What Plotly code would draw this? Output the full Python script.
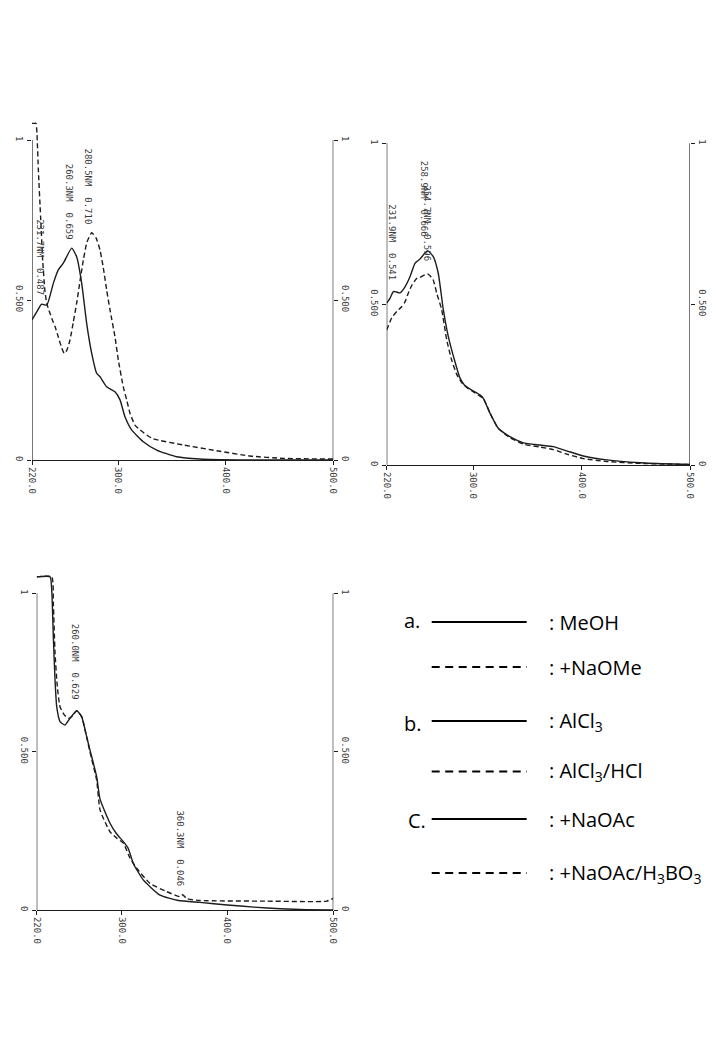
import plotly.graph_objects as go

W, H = 720, 1040

# ---------------- axes / ticks ----------------
X_RANGE = [220, 500]
Y_RANGE = [0, 1.08]
X_TICKS = [220, 300, 400, 500]
X_TICK_TEXT = ["220.0", "300.0", "400.0", "500.0"]
Y_TICKS = [0, 0.5, 1]
Y_TICK_TEXT = ["0", "0.500", "1"]

# ---------------- panel a : MeOH / +NaOMe ----------------
a_wl_meoh = [220, 224.4, 229.0, 233.7, 239.8, 244.4, 249.1, 256.9, 261.5, 266.2, 270.8,
             275.5, 280.1, 283.2, 289.4, 297.1, 301.8, 306.4, 312.6, 323.4, 335.9, 354.5,
             376.1, 413.3, 460, 500]
a_abs_meoh = [0.438, 0.463, 0.487, 0.484, 0.552, 0.594, 0.615, 0.662, 0.635, 0.552, 0.427,
              0.333, 0.271, 0.260, 0.229, 0.213, 0.188, 0.135, 0.094, 0.057, 0.031, 0.010,
              0.003, 0.0, 0.0, 0.0]
a_wl_naome = [220, 222.0, 223.7, 224.6, 226.0, 228.0, 230.0, 232.0, 233.7, 238.3, 241.4,
              244.4, 247.6, 250.0, 252.5, 255.3, 258.4, 261.5, 264.6, 267.7, 271.1, 275.5,
              279.5, 283.2, 286.3, 289.4, 292.5, 297.1, 300.2, 304.8, 308.0, 311.1, 315.7,
              320.4, 326.6, 332.7, 360.6, 391.6, 422.6, 453.5, 500]
a_abs_naome = [1.052, 1.052, 1.052, 1.020, 0.900, 0.760, 0.620, 0.530, 0.490, 0.443, 0.417,
               0.385, 0.350, 0.333, 0.344, 0.375, 0.431, 0.490, 0.559, 0.625, 0.681, 0.710,
               0.694, 0.656, 0.600, 0.531, 0.469, 0.385, 0.313, 0.229, 0.188, 0.146, 0.109,
               0.094, 0.078, 0.066, 0.047, 0.029, 0.0125, 0.005, 0.003]
a_lab_text = ["231.7NM  0.487", "260.3NM  0.659", "280.5NM  0.710"]
a_lab_wl = [227.4, 254.7, 272.3]
a_lab_abs = [0.487, 0.659, 0.710]

# ---------------- panel b : AlCl3 / AlCl3+HCl ----------------
b_wl_alcl3 = [220, 223.0, 226.1, 227.7, 232.3, 236.9, 241.5, 246.1, 250.7, 257.7, 263.0,
              267.6, 272.3, 276.9, 283.1, 287.7, 292.3, 298.5, 306.1, 309.2, 315.4, 323.0,
              333.8, 346.1, 361.5, 373.8, 386.2, 401.5, 423.1, 454.0, 484.3, 500]
b_abs_alcl3 = [0.503, 0.518, 0.539, 0.539, 0.535, 0.554, 0.585, 0.627, 0.640, 0.666, 0.648,
               0.596, 0.482, 0.399, 0.320, 0.270, 0.246, 0.233, 0.218, 0.207, 0.161, 0.114,
               0.088, 0.069, 0.062, 0.057, 0.044, 0.028, 0.016, 0.007, 0.003, 0.0015]
b_wl_hcl = [220, 224.6, 229.2, 233.8, 236.9, 239.9, 243.4, 247.7, 250.7, 257.7, 262.7,
            266.2, 270.8, 275.4, 280.0, 284.9, 289.5, 296.0, 304.3, 309.2, 315.4, 323.0,
            333.8, 346.1, 361.5, 373.8, 386.2, 401.5, 423.1, 454.0, 500]
b_abs_hcl = [0.420, 0.457, 0.477, 0.492, 0.507, 0.534, 0.560, 0.580, 0.583, 0.594, 0.577,
             0.534, 0.482, 0.389, 0.326, 0.280, 0.255, 0.236, 0.218, 0.207, 0.161, 0.114,
             0.085, 0.065, 0.056, 0.048, 0.034, 0.020, 0.011, 0.005, 0.0015]
b_lab_text = ["231.9NM  0.541", "258.9NM  0.666", "254.7NM  0.596"]
b_lab_wl = [224.6, 254.4, 257.2]
b_lab_abs = [0.541, 0.666, 0.596]

# ---------------- panel c : +NaOAc / +NaOAc+H3BO3 ----------------
c_wl_naoac = [220, 232.6, 234.2, 235.7, 237.3, 238.9, 242.0, 246.7, 251.4, 257.8, 262.5,
              267.2, 270.3, 276.6, 279.8, 289.2, 295.5, 301.8, 306.2, 311.2, 320.6, 336.4,
              353.7, 374.2, 400.0, 425.0, 450.0, 475.0, 500]
c_abs_naoac = [1.052, 1.052, 1.010, 0.863, 0.726, 0.642, 0.595, 0.584, 0.605, 0.629, 0.610,
               0.547, 0.505, 0.421, 0.350, 0.274, 0.240, 0.216, 0.196, 0.147, 0.095, 0.047,
               0.030, 0.024, 0.016, 0.009, 0.004, 0.001, 0.0]
c_wl_boric = [220, 234.2, 235.7, 237.3, 239.5, 242.0, 246.1, 249.8, 253.0, 257.8, 262.5,
              267.2, 270.3, 276.6, 279.8, 289.2, 295.5, 301.8, 308.1, 314.4, 327.0, 342.7,
              355.3, 357.8, 361.6, 374.2, 437.1, 493.8, 500]
c_abs_boric = [1.052, 1.052, 0.968, 0.811, 0.705, 0.642, 0.616, 0.605, 0.610, 0.629, 0.610,
               0.545, 0.499, 0.410, 0.316, 0.247, 0.227, 0.211, 0.164, 0.132, 0.084, 0.058,
               0.042, 0.048, 0.036, 0.030, 0.028, 0.028, 0.037]
c_lab_text = ["260.0NM  0.629", "360.3NM  0.046"]
c_lab_wl = [256.2, 355.3]
c_lab_abs = [0.629, 0.046]

# ---------------- legend text ----------------
leg_group = ["a.", "", "b.", "", "C.", ""]
leg_label = [": MeOH", ": +NaOMe", ": AlCl<sub>3</sub>", ": AlCl<sub>3</sub>/HCl",
             ": +NaOAc", ": +NaOAc/H<sub>3</sub>BO<sub>3</sub>"]
leg_dash = ["solid", "dash", "solid", "dash", "solid", "dash"]

# ---------------- layout geometry (pixels) ----------------
PANELS = [
    dict(left=32.0, right=333.3, base=460.0, one=140.0),
    dict(left=386.7, right=690.0, base=465.0, one=143.3),
    dict(left=36.7, right=333.3, base=910.0, one=593.3),
]
LEG_LINE_X = (431.7, 526.7)
LEG_TEXT_X = 546.7
LEG_ROW_Y = [622, 667, 721, 771.5, 819, 873]
LEG_GROUP_X = [402, 402, 402, 402, 406, 406]
LEG_GROUP_Y = [620, 0, 723, 0, 820, 0]

INK = "#1c1c1c"
MONO = dict(family="DejaVu Sans Mono", size=9, color="#3a3a3a")

fig = go.Figure()

# solid series on the left absorbance axis, dashed series on the right one (same scale)
series = [
    (a_wl_meoh, a_abs_meoh, "solid", 1), (a_wl_naome, a_abs_naome, "dash", 1),
    (b_wl_alcl3, b_abs_alcl3, "solid", 2), (b_wl_hcl, b_abs_hcl, "dash", 2),
    (c_wl_naoac, c_abs_naoac, "solid", 3), (c_wl_boric, c_abs_boric, "dash", 3),
]
for xs, ys, dash, p in series:
    sfx = "" if p == 1 else str(p)
    yax = ("y" + sfx) if dash == "solid" else ("y" + str(p + 3))
    fig.add_trace(go.Scatter(
        x=xs, y=ys, mode="lines", xaxis="x" + sfx, yaxis=yax, showlegend=False,
        line=dict(color=INK, width=1.4, dash="solid" if dash == "solid" else "5px,3px",
                  shape="spline", smoothing=0.5),
        hoverinfo="skip"))

layout = dict(width=W, height=H, margin=dict(l=0, r=0, t=0, b=0, autoexpand=False),
              paper_bgcolor="white", plot_bgcolor="white", showlegend=False)
shapes = []
annotations = []

for i, g in enumerate(PANELS, start=1):
    sfx = "" if i == 1 else str(i)
    px_per_unit = g["base"] - g["one"]
    top_px = g["base"] - Y_RANGE[1] * px_per_unit
    xd = [g["left"] / W, g["right"] / W]
    yd = [1 - g["base"] / H, 1 - top_px / H]
    layout["xaxis" + sfx] = dict(
        domain=xd, anchor="y" + sfx, range=X_RANGE, tickvals=X_TICKS, ticktext=X_TICK_TEXT,
        tickangle=90, ticks="outside", ticklen=4, tickcolor=INK, showline=True,
        linecolor=INK, linewidth=1.2, showgrid=False, zeroline=False, tickfont=MONO,
        automargin=False, fixedrange=True)
    ycommon = dict(range=Y_RANGE, tickvals=Y_TICKS, ticktext=Y_TICK_TEXT, tickangle=90,
                   ticks="outside", ticklen=4, tickcolor=INK, showline=False,
                   showgrid=False, zeroline=False, tickfont=MONO, automargin=False,
                   fixedrange=True)
    layout["yaxis" + sfx] = dict(domain=yd, anchor="x" + sfx, **ycommon)
    layout["yaxis" + str(i + 3)] = dict(overlaying="y" + sfx, side="right",
                                        anchor="x" + sfx, **ycommon)
    # vertical frame lines (0 .. 1 only, as printed by the spectrometer)
    for xv in X_RANGE:
        shapes.append(dict(type="line", xref="x" + sfx, yref="y" + sfx,
                           x0=xv, x1=xv, y0=Y_TICKS[0], y1=Y_TICKS[-1],
                           line=dict(color=INK, width=1.2)))

labels = [(a_lab_text, a_lab_wl, a_lab_abs, 1, [7, 7, 6]),
          (b_lab_text, b_lab_wl, b_lab_abs, 2, [9, 12, 10]),
          (c_lab_text, c_lab_wl, c_lab_abs, 3, [9, 7])]
for texts, xs, ys, p, shifts in labels:
    sfx = "" if p == 1 else str(p)
    for t, xv, yv, sh in zip(texts, xs, ys, shifts):
        annotations.append(dict(text=t, x=xv, y=yv, xref="x" + sfx, yref="y" + sfx,
                                showarrow=False, textangle=90, xanchor="center",
                                yanchor="bottom", yshift=sh, font=MONO))

LEG_FONT = dict(family="Open Sans", size=20, color="black")
for k in range(len(leg_label)):
    yy = 1 - LEG_ROW_Y[k] / H
    shapes.append(dict(type="line", xref="paper", yref="paper",
                       x0=LEG_LINE_X[0] / W, x1=LEG_LINE_X[1] / W, y0=yy, y1=yy,
                       line=dict(color="black", width=2,
                                 dash="solid" if leg_dash[k] == "solid" else "8px,5.5px")))
    annotations.append(dict(text=leg_label[k], x=LEG_TEXT_X / W, y=yy, xref="paper",
                            yref="paper", xanchor="left", yanchor="middle",
                            showarrow=False, font=LEG_FONT))
    if leg_group[k]:
        annotations.append(dict(text=leg_group[k], x=LEG_GROUP_X[k] / W,
                                y=1 - LEG_GROUP_Y[k] / H, xref="paper", yref="paper",
                                xanchor="left", yanchor="middle", showarrow=False,
                                font=LEG_FONT))

layout["shapes"] = shapes
layout["annotations"] = annotations
fig.update_layout(**layout)
fig.write_html("out.html", config={"displayModeBar": False},
               post_script="document.body.style.margin='0px';")
